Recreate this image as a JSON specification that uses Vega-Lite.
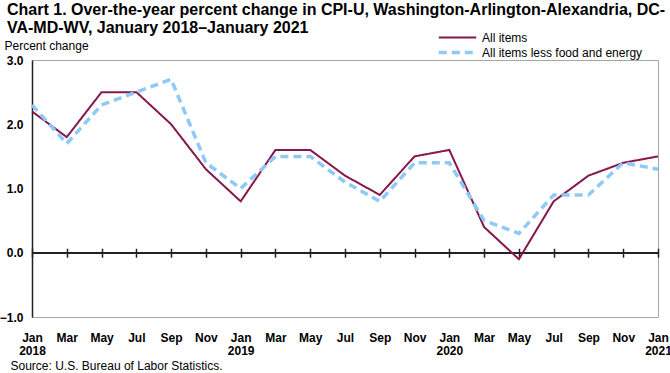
{
  "$schema": "https://vega.github.io/schema/vega-lite/v6.json",
  "autosize": "none",
  "width": 626,
  "height": 257,
  "padding": {"left": 32, "top": 60, "right": 12, "bottom": 56},
  "background": "white",
  "config": {
    "font": "Liberation Sans",
    "view": {"stroke": "#a6a6a6", "strokeWidth": 1}
  },
  "title": {
    "text": ["Chart 1. Over-the-year percent change in CPI-U, Washington-Arlington-Alexandria, DC-", "VA-MD-WV, January 2018–January 2021"],
    "anchor": "start",
    "frame": "group",
    "font": "Liberation Sans",
    "fontSize": 16,
    "fontWeight": "bold",
    "color": "#000000",
    "lineHeight": 18,
    "dx": -25,
    "dy": 30,
    "offset": 24
  },
  "datasets": {
    "cpi": [
      {"month": "Jan 2018", "series": "All items", "value": 2.2},
      {"month": "Mar 2018", "series": "All items", "value": 1.8},
      {"month": "May 2018", "series": "All items", "value": 2.5},
      {"month": "Jul 2018", "series": "All items", "value": 2.5},
      {"month": "Sep 2018", "series": "All items", "value": 2.0},
      {"month": "Nov 2018", "series": "All items", "value": 1.3},
      {"month": "Jan 2019", "series": "All items", "value": 0.8},
      {"month": "Mar 2019", "series": "All items", "value": 1.6},
      {"month": "May 2019", "series": "All items", "value": 1.6},
      {"month": "Jul 2019", "series": "All items", "value": 1.2},
      {"month": "Sep 2019", "series": "All items", "value": 0.9},
      {"month": "Nov 2019", "series": "All items", "value": 1.5},
      {"month": "Jan 2020", "series": "All items", "value": 1.6},
      {"month": "Mar 2020", "series": "All items", "value": 0.4},
      {"month": "May 2020", "series": "All items", "value": -0.1},
      {"month": "Jul 2020", "series": "All items", "value": 0.8},
      {"month": "Sep 2020", "series": "All items", "value": 1.2},
      {"month": "Nov 2020", "series": "All items", "value": 1.4},
      {"month": "Jan 2021", "series": "All items", "value": 1.5},
      {"month": "Jan 2018", "series": "All items less food and energy", "value": 2.3},
      {"month": "Mar 2018", "series": "All items less food and energy", "value": 1.7},
      {"month": "May 2018", "series": "All items less food and energy", "value": 2.3},
      {"month": "Jul 2018", "series": "All items less food and energy", "value": 2.5},
      {"month": "Sep 2018", "series": "All items less food and energy", "value": 2.7},
      {"month": "Nov 2018", "series": "All items less food and energy", "value": 1.4},
      {"month": "Jan 2019", "series": "All items less food and energy", "value": 1.0},
      {"month": "Mar 2019", "series": "All items less food and energy", "value": 1.5},
      {"month": "May 2019", "series": "All items less food and energy", "value": 1.5},
      {"month": "Jul 2019", "series": "All items less food and energy", "value": 1.1},
      {"month": "Sep 2019", "series": "All items less food and energy", "value": 0.8},
      {"month": "Nov 2019", "series": "All items less food and energy", "value": 1.4},
      {"month": "Jan 2020", "series": "All items less food and energy", "value": 1.4},
      {"month": "Mar 2020", "series": "All items less food and energy", "value": 0.5},
      {"month": "May 2020", "series": "All items less food and energy", "value": 0.3},
      {"month": "Jul 2020", "series": "All items less food and energy", "value": 0.9},
      {"month": "Sep 2020", "series": "All items less food and energy", "value": 0.9},
      {"month": "Nov 2020", "series": "All items less food and energy", "value": 1.4},
      {"month": "Jan 2021", "series": "All items less food and energy", "value": 1.3}
    ]
  },
  "data": {"name": "cpi"},
  "layer": [
    {
      "mark": {"type": "rule", "color": "#222222", "strokeWidth": 1.5},
      "encoding": {"y": {"datum": 0, "type": "quantitative"}}
    },
    {
      "mark": {"type": "line", "strokeCap": "butt"},
      "encoding": {
        "x": {
          "field": "month",
          "type": "ordinal",
          "sort": null,
          "scale": {"type": "point", "padding": 0},
          "axis": {
            "offset": -68.75,
            "title": "Source: U.S. Bureau of Labor Statistics.",
            "titleFont": "Liberation Sans",
            "titleFontSize": 12,
            "titleFontWeight": "normal",
            "titleColor": "#000000",
            "titleAnchor": "start",
            "titleAlign": "left",
            "titleX": -22,
            "titleY": 120.75,
            "titleBaseline": "alphabetic",
            "labelAngle": 0,
            "labelFontSize": 12,
            "labelFontWeight": "bold",
            "labelColor": "#000000",
            "labelPadding": 75,
            "labelLineHeight": 13,
            "labelFlush": false,
            "labelOverlap": false,
            "labelExpr": "slice(datum.label,0,3)=='Jan' ? split(datum.label,' ') : slice(datum.label,0,3)",
            "domain": false,
            "ticks": true,
            "tickSize": 9,
            "tickWidth": 1.5,
            "tickColor": "#222222",
            "grid": false
          }
        },
        "y": {
          "field": "value",
          "type": "quantitative",
          "scale": {"domain": [-1, 3], "nice": false, "zero": false},
          "axis": {
            "values": [-1, 0, 1, 2, 3],
            "format": ".1f",
            "title": "Percent change",
            "titleAngle": 0,
            "titleFont": "Liberation Sans",
            "titleFontSize": 12,
            "titleFontWeight": "normal",
            "titleColor": "#000000",
            "titleAlign": "left",
            "titleBaseline": "alphabetic",
            "titleX": -28,
            "titleY": -11,
            "labelFontSize": 12,
            "labelFontWeight": "bold",
            "labelColor": "#000000",
            "labelPadding": 9,
            "ticks": false,
            "domainColor": "#222222",
            "domainWidth": 1.5,
            "gridColor": "#a6a6a6",
            "gridWidth": 1
          }
        },
        "color": {
          "field": "series",
          "type": "nominal",
          "scale": {"domain": ["All items", "All items less food and energy"], "range": ["#86174a", "#8ec9f7"]},
          "legend": {
            "title": null,
            "orient": "none",
            "legendX": 405,
            "legendY": -30,
            "labelFontSize": 12,
            "labelColor": "#000000",
            "labelLimit": 0,
            "symbolType": "stroke",
            "symbolSize": 1400,
            "symbolStrokeWidth": 3,
            "clipHeight": 15,
            "rowPadding": 0,
            "labelOffset": 4
          }
        },
        "strokeDash": {
          "field": "series",
          "type": "nominal",
          "scale": {"domain": ["All items", "All items less food and energy"], "range": [[1, 0], [8, 5]]},
          "legend": null
        },
        "strokeWidth": {
          "field": "series",
          "type": "nominal",
          "scale": {"domain": ["All items", "All items less food and energy"], "range": [2, 3.5]},
          "legend": null
        }
      }
    }
  ]
}
